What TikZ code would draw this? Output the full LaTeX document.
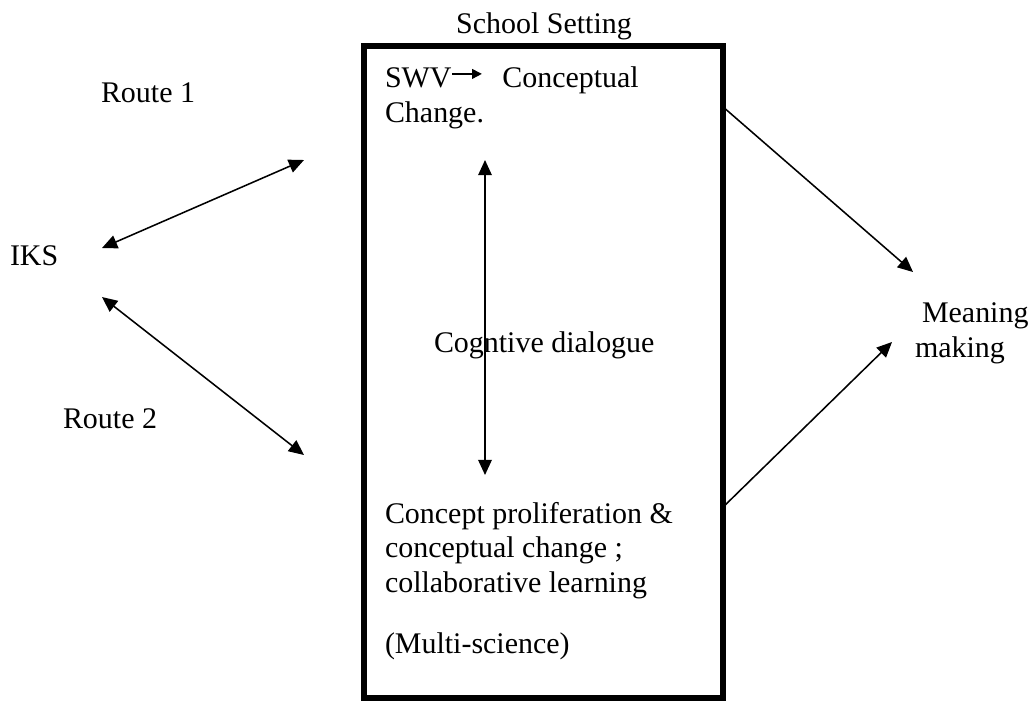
\documentclass[tikz,border=0pt]{standalone}
\usepackage{fontspec}
\setmainfont{Liberation Serif}
\usetikzlibrary{arrows.meta,calc}
\newcommand{\swvarr}{\tikz[baseline=-10pt]\draw[line width=1.1pt,-{Triangle[length=7pt,width=7pt]}] (0pt,0pt) -- (21pt,0pt);}
\begin{document}
\begin{tikzpicture}[x=0.025cm,y=-0.025cm,inner sep=0pt,outer sep=0pt,line width=1.1pt,
>={Triangle[length=0.38cm,width=0.34cm]},
every node/.style={font=\fontsize{21.3}{24.2}\selectfont},
setting/.style={draw,rectangle,line width=4pt,minimum width=8.975cm,minimum height=16.3cm},
txt/.style={anchor=base west,align=left}]
\useasboundingbox (0,0) rectangle (1031,700);
\draw (543.5,372) node[setting] (school) {};
\draw (544,33) node[anchor=base] (title) {School Setting};
% multi-line texts sit on their last line
\draw (385,122) node[txt] (swv) {SWV\swvarr\hspace{14pt}Conceptual\\Change.};
\draw (434,352) node[txt] (dialogue) {Cogntive dialogue};
\draw (385,592) node[txt] (proc) {Concept proliferation \&\\conceptual change ;\\collaborative learning};
\draw (385,653) node[txt] (multi) {(Multi-science)};
\draw (10,265) node[txt] (iks) {IKS};
\draw (101,102) node[txt] (route1) {Route 1};
\draw (63,428) node[txt] (route2) {Route 2};
\draw (915,357) node[txt] (mm) {\hspace{5pt}Meaning\\making};

% free ends of the routes
\coordinate (r1a) at (102,248);
\coordinate (r1b) at (304,160);
\coordinate (r2a) at (102,297);
\coordinate (r2b) at (304,455);
\coordinate (dtop) at (485,160);
\coordinate (dbot) at (485,475);
\coordinate (m1) at (913,272);
\coordinate (m2) at (892,342);

\draw[<->] (r1a) -- (r1b);
\draw[<->] (r2a) -- (r2b);
\draw[<->] (dtop) -- (dbot);
\draw[->] ($(school.north east)+(0,61)$) -- (m1);
\draw[->] ($(school.south east)+(0,-191)$) -- (m2);
\end{tikzpicture}
\end{document}
